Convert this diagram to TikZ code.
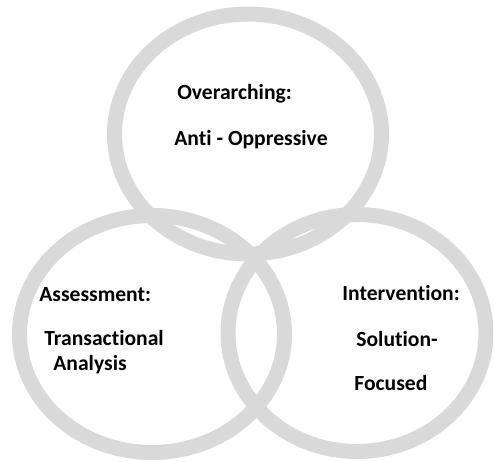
\documentclass[tikz,border=0pt]{standalone}
\usepackage{fontspec}
\setmainfont[Ligatures=NoCommon]{Carlito}
\usetikzlibrary{shapes.geometric}
\definecolor{ringgray}{RGB}{217,217,217}

\begin{document}
\begin{tikzpicture}[x=0.02cm,y=-0.02cm]
            \useasboundingbox (0,0) rectangle (494,462);
            \begin{scope}[every node/.style={ellipse,draw=ringgray,line width=0.3cm,inner sep=0pt}]
                \node (T) [minimum width=5.34cm,minimum height=4.8cm] at (248,134) {};
                \node (L) [minimum width=5.3cm,minimum height=4.74cm] at (152,334) {};
                \node (R) [minimum width=5.16cm,minimum height=4.74cm] at (357,333) {};
            \end{scope}
            
            \begin{scope}[every node/.style={anchor=base west,inner sep=0pt,font=\fontsize{12.3}{14}\selectfont\bfseries}]
                \node (T1) at (177,100) {Overarching:};
                \node (T2) at (174,146) {Anti - Oppressive};
                \node (L1) at (39,302) {Assessment:};
                \node (L2) at (44,346) {Transactional};
                \node (L3) at (53,371) {Analysis};
                \node (R1) at (342,301) {Intervention:};
                \node (R2) at (356,347) {Solution-};
                \node (R3) at (354,391) {Focused};
            \end{scope}
        \end{tikzpicture}
\end{document}
